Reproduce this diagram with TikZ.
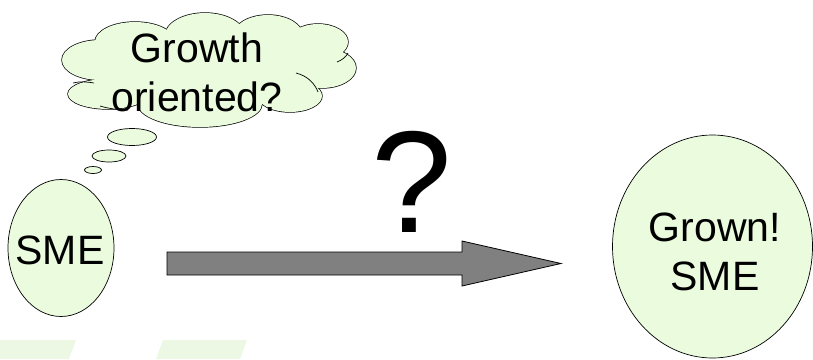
\documentclass[tikz,border=0pt]{standalone}
\usepackage{fontspec}
\setmainfont{Liberation Sans}
\usetikzlibrary{shapes.geometric}
\definecolor{pale}{RGB}{234,251,222}
\definecolor{wm}{RGB}{236,248,228}
\definecolor{arrowgray}{RGB}{128,128,128}
\begin{document}
\begin{tikzpicture}[x=1pt,y=-1pt,
  bubble/.style={ellipse,draw=black,line width=0.7pt,fill=pale,inner sep=0pt},
  lbl/.style={font=\fontsize{41}{49}\selectfont,align=center,text=black},
  lobeline/.style={draw=black,line width=1.4pt},
  lobefill/.style={fill=pale}]
\useasboundingbox (0,0) rectangle (813,359);
% watermark shapes
\fill[wm] (0,340) -- (76,340) -- (69,359) -- (0,359) -- cycle;
\fill[wm] (163,340) -- (247,340) -- (240,359) -- (156,359) -- cycle;
% thought cloud: union of lobes
\def\lobes{100/60/38/20, 108/94/40/15, 200/104/62/23, 290/96/32/16, 322/68/34/20,
  318/42/30/18, 268/36/35/21, 205/36/40/23, 135/42/40/20, 210/70/105/38}
\foreach \cx/\cy/\rx/\ry in \lobes {\path[lobeline] (\cx,\cy) ellipse [x radius=\rx, y radius=\ry];}
\foreach \cx/\cy/\rx/\ry in \lobes {\path[lobefill] (\cx,\cy) ellipse [x radius=\rx, y radius=\ry];}
% inner lobe arcs
\draw[line width=0.7pt] (73,83) .. controls (80,81) and (88,82) .. (94,83);
\draw[line width=0.7pt] (296,73) .. controls (308,76) and (315,84) .. (318,92);
\draw[line width=0.7pt] (337,62) .. controls (342,60) and (346,57) .. (348,53);
\draw[line width=0.7pt] (100,106) .. controls (110,109) and (120,110) .. (128,110);
\coordinate (cloudc) at (208,70);
\node[lbl] (ctext) at (197,72) {Growth\\oriented?};
\node[bubble,minimum width=49pt,minimum height=17pt] (b1) at (132,137) {};
\node[bubble,minimum width=34pt,minimum height=12pt] (b2) at (109,156) {};
\node[bubble,minimum width=17pt,minimum height=7pt] (b3) at (93,170) {};
% SME
\node[bubble,minimum width=106pt,minimum height=137pt] (sme) at (61,248) {};
\node[lbl] (smet) at (60,250) {SME};
% Grown SME
\node[bubble,minimum width=200pt,minimum height=223pt] (grown) at (712.5,246.5) {};
\node[lbl] (grownt) at (715,252) {Grown!\\SME};
% arrow
\draw[fill=arrowgray,line width=0.8pt,line join=miter]
  (167,252) -- (462,252) -- (462,241) -- (561,263.5) -- (462,286) -- (462,275) -- (167,275) -- cycle;
% question mark
\node[font=\fontsize{145}{145}\selectfont,inner sep=0pt,anchor=base] (q) at (412,232) {?};
\end{tikzpicture}
\end{document}
